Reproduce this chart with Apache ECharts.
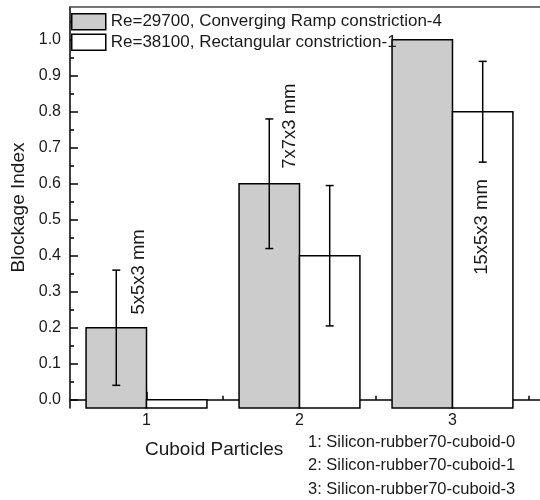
<!DOCTYPE html>
<html>
<head>
<meta charset="utf-8">
<script src="https://cdn.jsdelivr.net/npm/echarts@6/dist/echarts.min.js"></script>
<style>
  html, body { margin: 0; padding: 0; background: #fff; }
  #chart { width: 540px; height: 500px; }
</style>
</head>
<body>
<div id="chart"></div>
<script>
// Particle groups on the x axis
const categories = [1, 2, 3];
const categoryNames = [
  '1: Silicon-rubber70-cuboid-0',
  '2: Silicon-rubber70-cuboid-1',
  '3: Silicon-rubber70-cuboid-3'
];

// Blockage index, converging ramp (Re=29700)
const rampName = 'Re=29700, Converging Ramp constriction-4';
const rampValues = [0.2, 0.6, 1.0];
const rampErrors = [0.16, 0.18, 0];

// Blockage index, rectangular constriction (Re=38100)
const rectName = 'Re=38100, Rectangular constriction-1';
const rectValues = [0.0, 0.4, 0.8];
const rectErrors = [0, 0.195, 0.14];

// Particle size notes, in data coordinates
const sizeLabels = ['5x5x3 mm', '7x7x3 mm', '15x5x3 mm'];
const sizeLabelX = [0.951, 1.935, 3.19];
const sizeLabelY = [0.355, 0.76, 0.48];

// Axis ticks
const yTicks = [0, 0.1, 0.2, 0.3, 0.4, 0.5, 0.6, 0.7, 0.8, 0.9, 1.0];
const yMinorTicks = [0.05, 0.15, 0.25, 0.35, 0.45, 0.55, 0.65, 0.75, 0.85, 0.95, 1.05];
const xMinorTicks = [1.5, 2.5, 3.5];

const X_MIN = 0.5, X_MAX = 3.572;
const Y_MIN = -0.023, Y_MAX = 1.091;
const BAR_W = 0.395;
const FONT = '"Liberation Sans", Arial, sans-serif';
const TEXT = '#1a1a1a';

const chart = echarts.init(document.getElementById('chart'), null, { renderer: 'canvas' });

function barRenderer(offset) {
  return function (params, api) {
    const x = api.value(0), v = api.value(1);
    const a = api.coord([x + offset, v]);
    const b = api.coord([x + offset + BAR_W, Y_MIN]);
    return {
      type: 'rect',
      shape: { x: a[0], y: a[1], width: b[0] - a[0], height: b[1] - a[1] },
      style: api.style()
    };
  };
}

function errRenderer(offset) {
  return function (params, api) {
    const x = api.value(0), v = api.value(1), e = api.value(2);
    if (!e) return null;
    const hi = api.coord([x + offset, v + e]);
    const lo = api.coord([x + offset, v - e]);
    const cap = 4;
    const st = { stroke: '#000', lineWidth: 1.5 };
    return {
      type: 'group',
      children: [
        { type: 'line', shape: { x1: hi[0], y1: hi[1], x2: lo[0], y2: lo[1] }, style: st },
        { type: 'line', shape: { x1: hi[0] - cap, y1: hi[1], x2: hi[0] + cap, y2: hi[1] }, style: st },
        { type: 'line', shape: { x1: lo[0] - cap, y1: lo[1], x2: lo[0] + cap, y2: lo[1] }, style: st }
      ]
    };
  };
}

const rampData = categories.map((c, i) => [c, rampValues[i], rampErrors[i]]);
const rectData = categories.map((c, i) => [c, rectValues[i], rectErrors[i]]);
const noteData = sizeLabels.map((t, i) => [sizeLabelX[i], sizeLabelY[i], t]);

const option = {
  animation: false,
  backgroundColor: '#fff',
  textStyle: { fontFamily: FONT },
  grid: { left: 70, right: 0, top: 7, bottom: 92 },
  legend: {
    orient: 'vertical',
    left: 71,
    top: 13,
    padding: 0,
    itemWidth: 34,
    itemHeight: 16,
    itemGap: 3,
    icon: 'rect',
    textStyle: { fontFamily: FONT, fontSize: 17, color: TEXT },
    data: [
      { name: rampName, itemStyle: { color: '#cccccc', borderColor: '#000', borderWidth: 1.5 } },
      { name: rectName, itemStyle: { color: '#ffffff', borderColor: '#000', borderWidth: 1.5 } }
    ],
    z: 10
  },
  xAxis: [
    {
      type: 'value', position: 'bottom', min: X_MIN, max: X_MAX,
      axisLine: { show: true, lineStyle: { color: '#000', width: 1.5 } },
      axisTick: { show: true, inside: true, length: 8, customValues: categories, lineStyle: { color: '#000', width: 1.5 } },
      axisLabel: { customValues: categories, fontSize: 16, color: TEXT, margin: 5, fontFamily: FONT },
      splitLine: { show: false }
    },
    {
      type: 'value', position: 'bottom', min: X_MIN, max: X_MAX,
      axisLine: { show: false },
      axisTick: { show: true, inside: true, length: 4, customValues: xMinorTicks, lineStyle: { color: '#000', width: 1.5 } },
      axisLabel: { show: false },
      splitLine: { show: false }
    },
    {
      type: 'value', position: 'top', min: X_MIN, max: X_MAX,
      axisLine: { show: true, lineStyle: { color: '#4a4a4a', width: 1.5 } },
      axisTick: { show: false },
      axisLabel: { show: false },
      splitLine: { show: false }
    }
  ],
  yAxis: [
    {
      type: 'value', position: 'left', min: Y_MIN, max: Y_MAX,
      name: 'Blockage Index', nameLocation: 'middle', nameGap: 37,
      nameTextStyle: { fontSize: 19, color: TEXT, fontFamily: FONT },
      axisLine: { show: true, lineStyle: { color: '#000', width: 1.5 } },
      axisTick: { show: true, inside: true, length: 8, customValues: yTicks, lineStyle: { color: '#000', width: 1.5 } },
      axisLabel: { customValues: yTicks, fontSize: 16, color: TEXT, margin: 9, fontFamily: FONT,
        formatter: v => v.toFixed(1) },
      splitLine: { show: false }
    },
    {
      type: 'value', position: 'left', min: Y_MIN, max: Y_MAX,
      axisLine: { show: false },
      axisTick: { show: true, inside: true, length: 4, customValues: yMinorTicks, lineStyle: { color: '#000', width: 1.5 } },
      axisLabel: { show: false },
      splitLine: { show: false }
    }
  ],
  graphic: [
    {
      type: 'text', left: 145, top: 440,
      style: { text: 'Cuboid Particles', fontSize: 19, fill: TEXT, font: '19px ' + FONT }
    },
    {
      type: 'text', left: 308, top: 431,
      style: { text: categoryNames.join('\n'), fontSize: 16.5, lineHeight: 23.3, fill: TEXT, font: '16.5px ' + FONT }
    }
  ],
  series: [
    {
      name: rampName, type: 'custom', xAxisIndex: 0, yAxisIndex: 0,
      itemStyle: { color: '#cccccc', borderColor: '#000', borderWidth: 1.5 },
      renderItem: barRenderer(-BAR_W), data: rampData, z: 2, clip: false
    },
    {
      name: rectName, type: 'custom', xAxisIndex: 0, yAxisIndex: 0,
      itemStyle: { color: '#ffffff', borderColor: '#000', borderWidth: 1.5 },
      renderItem: barRenderer(0), data: rectData, z: 2, clip: false
    },
    {
      type: 'custom', xAxisIndex: 0, yAxisIndex: 0,
      renderItem: errRenderer(-BAR_W / 2), data: rampData, z: 3, clip: false
    },
    {
      type: 'custom', xAxisIndex: 0, yAxisIndex: 0,
      renderItem: errRenderer(BAR_W / 2), data: rectData, z: 3, clip: false
    },
    {
      type: 'custom', xAxisIndex: 0, yAxisIndex: 0, z: 4, clip: false,
      data: noteData,
      renderItem: function (params, api) {
        const p = api.coord([api.value(0), api.value(1)]);
        return {
          type: 'text',
          x: p[0], y: p[1], rotation: Math.PI / 2,
          style: {
            text: noteData[params.dataIndex][2],
            font: '18.5px ' + FONT, fill: TEXT,
            align: 'center', verticalAlign: 'middle'
          }
        };
      }
    }
  ]
};

chart.setOption(option);
</script>
</body>
</html>
